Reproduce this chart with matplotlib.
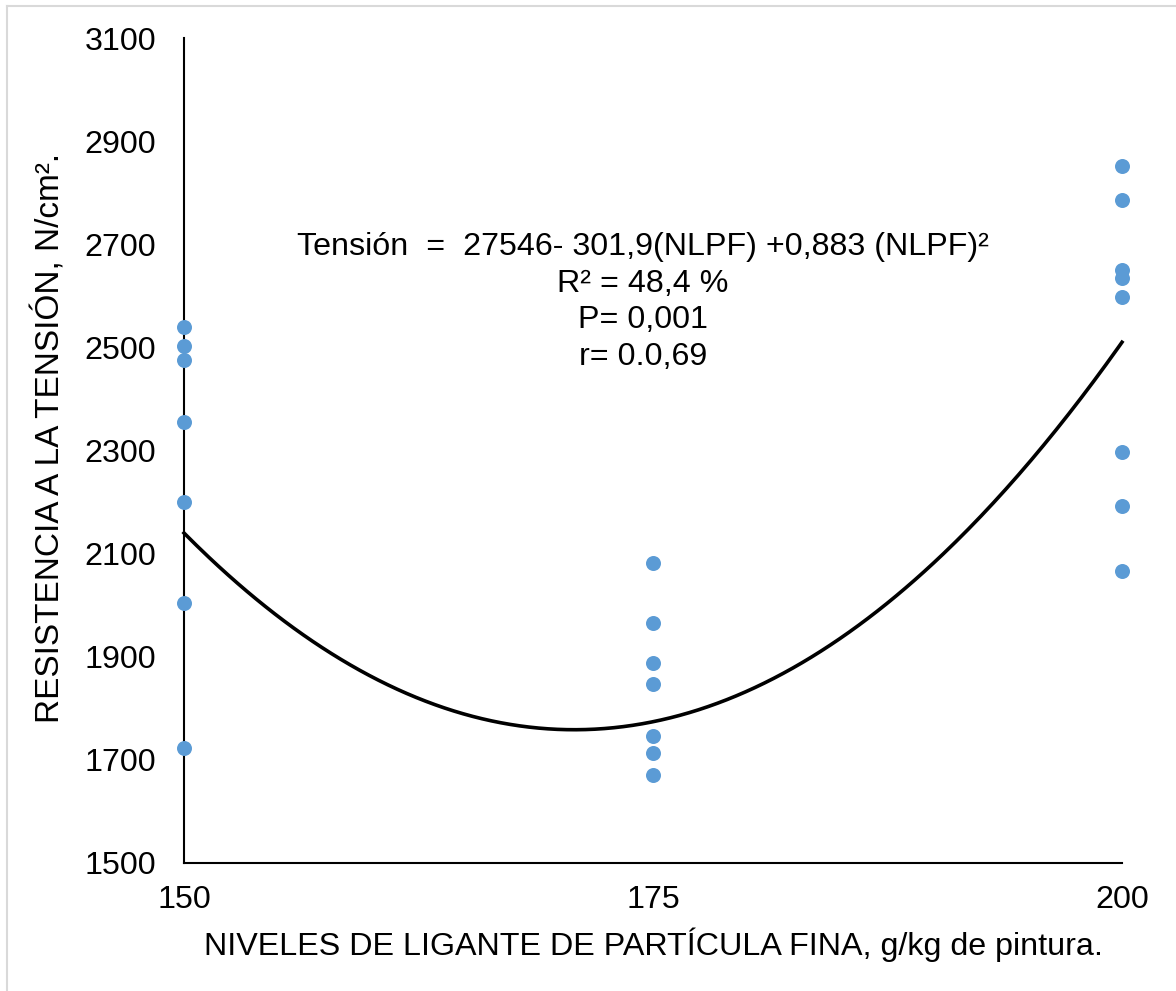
import numpy as np
import matplotlib
matplotlib.use("Agg")
import matplotlib.pyplot as plt
from matplotlib.lines import Line2D

plt.rcParams['font.family'] = ['Liberation Sans', 'DejaVu Sans']

# ---- data ----
x_levels = [150, 175, 200]
y_150 = [2540, 2502, 2475, 2355, 2201, 2005, 1724]
y_175 = [2081, 1965, 1888, 1848, 1747, 1714, 1671]
y_200 = [2851, 2786, 2650, 2634, 2598, 2298, 2193, 2066]
# quadratic trend coefficients (c0 + c1*x + c2*x^2)
trend_coef = [27478, -301.16, 0.8816]

x_ticks = [150, 175, 200]
y_ticks = [1500, 1700, 1900, 2100, 2300, 2500, 2700, 2900, 3100]

eq_lines = ["Tensión  =  27546- 301,9(NLPF) +0,883 (NLPF)²",
            "R² = 48,4 %",
            "P= 0,001",
            "r= 0.0,69"]

xlabel = "NIVELES DE LIGANTE DE PARTÍCULA FINA, g/kg de pintura."
ylabel = "RESISTENCIA A LA TENSIÓN, N/cm²."

# ---- figure ----
W, H = 1176, 991
fig = plt.figure(figsize=(W / 100, H / 100), dpi=100)
ax = fig.add_axes([184 / W, 1 - 863 / H, (1122 - 184) / W, (863 - 38) / H])

ax.set_xlim(150, 200)
ax.set_ylim(1500, 3100)

blue = '#5B9BD5'
for xv, ys in zip(x_levels, [y_150, y_175, y_200]):
    ax.plot([xv] * len(ys), ys, 'o', color=blue, markersize=10.8,
            markeredgewidth=0, clip_on=False, zorder=3)

xs = np.linspace(150, 200, 300)
ys = trend_coef[0] + trend_coef[1] * xs + trend_coef[2] * xs ** 2
ax.plot(xs, ys, color='black', linewidth=2.6, zorder=2, clip_on=False)

for s in ['top', 'right']:
    ax.spines[s].set_visible(False)
for s in ['left', 'bottom']:
    ax.spines[s].set_color('black')
    ax.spines[s].set_linewidth(1.5)

ax.set_xticks(x_ticks)
ax.set_yticks(y_ticks)
ax.tick_params(axis='both', length=0, labelsize=23.2, colors='black')
ax.tick_params(axis='y', pad=20)
ax.tick_params(axis='x', pad=16)

fig.text(654 / W, 1 - 945 / H, xlabel, fontsize=23.2, ha='center', va='center')
fig.text(50 / W, 1 - 438 / H, ylabel, fontsize=24, ha='center', va='center',
         rotation=90)

line_y = [247, 284, 320, 357]
for txt, py in zip(eq_lines, line_y):
    fig.text(643 / W, 1 - py / H, txt, fontsize=23.2, ha='center', va='center')

# light frame border (top and left)
fig.add_artist(Line2D([7 / W, 1], [1 - 5.5 / H, 1 - 5.5 / H], color='#D9D9D9',
                      linewidth=1.5, transform=fig.transFigure))
fig.add_artist(Line2D([7 / W, 7 / W], [0, 1 - 5.5 / H], color='#D9D9D9',
                      linewidth=1.5, transform=fig.transFigure))

fig.savefig('out.png', dpi=100, facecolor='white')
